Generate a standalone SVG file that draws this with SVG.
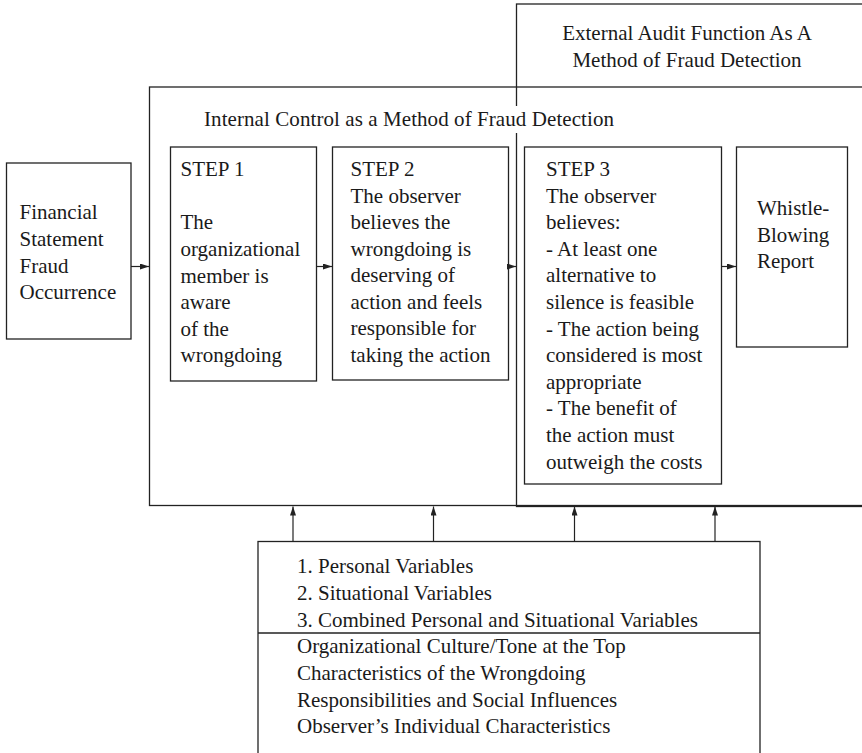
<svg xmlns="http://www.w3.org/2000/svg" width="862" height="753" viewBox="0 0 862 753">
  <style>
    .box { fill: none; stroke: #222; stroke-width: 1.3; }
    .conn { stroke: #222; stroke-width: 1.2; fill: none; }
  </style>
  <defs>
    <marker id="arrow" markerUnits="userSpaceOnUse" markerWidth="10" markerHeight="6" refX="9" refY="3" orient="auto">
      <path d="M0,0 L9,3 L0,6 z" fill="#222"/>
    </marker>
  </defs>

  <rect width="862" height="753" fill="#fff"/>

  <g font-family="Liberation Serif, Times New Roman, serif" font-size="21" fill="#1a1a1a">
    <!-- outer frames -->
    <g id="external-audit">
      <rect class="box" x="516.5" y="4" width="420" height="502.5"/>
      <text text-anchor="middle" x="687" y="39.5">External Audit Function As A</text>
      <text text-anchor="middle" x="687" y="66.5">Method of Fraud Detection</text>
    </g>

    <g id="internal-control">
      <rect class="box" x="149.5" y="87" width="800" height="418.5"/>
      <rect x="200" y="106" width="420" height="27" fill="#fff"/>
      <text x="204" y="125.5" textLength="410">Internal Control as a Method of Fraud Detection</text>
    </g>

    <!-- nodes -->
    <g id="fraud-occurrence">
      <rect class="box" x="6.5" y="163" width="124.5" height="176"/>
      <text x="19.5" y="219">Financial</text>
      <text x="19.5" y="246">Statement</text>
      <text x="19.5" y="272.5">Fraud</text>
      <text x="19.5" y="299">Occurrence</text>
    </g>

    <g id="step1">
      <rect class="box" x="170.5" y="147" width="146" height="234"/>
      <text x="180.5" y="176">STEP 1</text>
      <text x="180.5" y="229">The</text>
      <text x="180.5" y="256">organizational</text>
      <text x="180.5" y="282.5">member is</text>
      <text x="180.5" y="309">aware</text>
      <text x="180.5" y="335.5">of the</text>
      <text x="180.5" y="362">wrongdoing</text>
    </g>

    <g id="step2">
      <rect class="box" x="332.5" y="147" width="176" height="233"/>
      <text x="350.5" y="176">STEP 2</text>
      <text x="350.5" y="202.5">The observer</text>
      <text x="350.5" y="229">believes the</text>
      <text x="350.5" y="255.5">wrongdoing is</text>
      <text x="350.5" y="282">deserving of</text>
      <text x="350.5" y="308.5">action and feels</text>
      <text x="350.5" y="335">responsible for</text>
      <text x="350.5" y="361.5">taking the action</text>
    </g>

    <g id="step3">
      <rect class="box" x="524.5" y="147" width="197" height="337"/>
      <text x="546" y="176">STEP 3</text>
      <text x="546" y="202.6">The observer</text>
      <text x="546" y="229.2">believes:</text>
      <text x="546" y="255.8">- At least one</text>
      <text x="546" y="282.4">alternative to</text>
      <text x="546" y="309">silence is feasible</text>
      <text x="546" y="335.6">- The action being</text>
      <text x="546" y="362.2">considered is most</text>
      <text x="546" y="388.8">appropriate</text>
      <text x="546" y="415.4">- The benefit of</text>
      <text x="546" y="442">the action must</text>
      <text x="546" y="468.6">outweigh the costs</text>
    </g>

    <g id="whistle-blowing">
      <rect class="box" x="736.5" y="147" width="111" height="200"/>
      <text x="757" y="215">Whistle-</text>
      <text x="757" y="241.5">Blowing</text>
      <text x="757" y="268">Report</text>
    </g>

    <g id="variables">
      <rect class="box" x="258" y="541.5" width="502" height="260"/>
      <line class="box" x1="258" y1="633" x2="760" y2="633"/>
      <text x="297" y="573">1. Personal Variables</text>
      <text x="297" y="600">2. Situational Variables</text>
      <text x="297" y="626.5">3. Combined Personal and Situational Variables</text>
      <text x="297" y="653">Organizational Culture/Tone at the Top</text>
      <text x="297" y="680">Characteristics of the Wrongdoing</text>
      <text x="297" y="706.5">Responsibilities and Social Influences</text>
      <text x="297" y="733">Observer’s Individual Characteristics</text>
    </g>
  </g>

  <!-- connectors -->
  <g id="connectors">
    <line class="conn" x1="131" y1="266.5" x2="149" y2="266.5" marker-end="url(#arrow)"/>
    <line class="conn" x1="316.5" y1="266.5" x2="332" y2="266.5" marker-end="url(#arrow)"/>
    <line class="conn" x1="508.5" y1="266.5" x2="516" y2="266.5" marker-end="url(#arrow)"/>
    <line class="conn" x1="721.5" y1="266.5" x2="736" y2="266.5" marker-end="url(#arrow)"/>
    <line class="conn" x1="293" y1="541.5" x2="293" y2="506.5" marker-end="url(#arrow)"/>
    <line class="conn" x1="433.5" y1="541.5" x2="433.5" y2="506.5" marker-end="url(#arrow)"/>
    <line class="conn" x1="574.5" y1="541.5" x2="574.5" y2="506.5" marker-end="url(#arrow)"/>
    <line class="conn" x1="715" y1="541.5" x2="715" y2="506.5" marker-end="url(#arrow)"/>
  </g>
</svg>
